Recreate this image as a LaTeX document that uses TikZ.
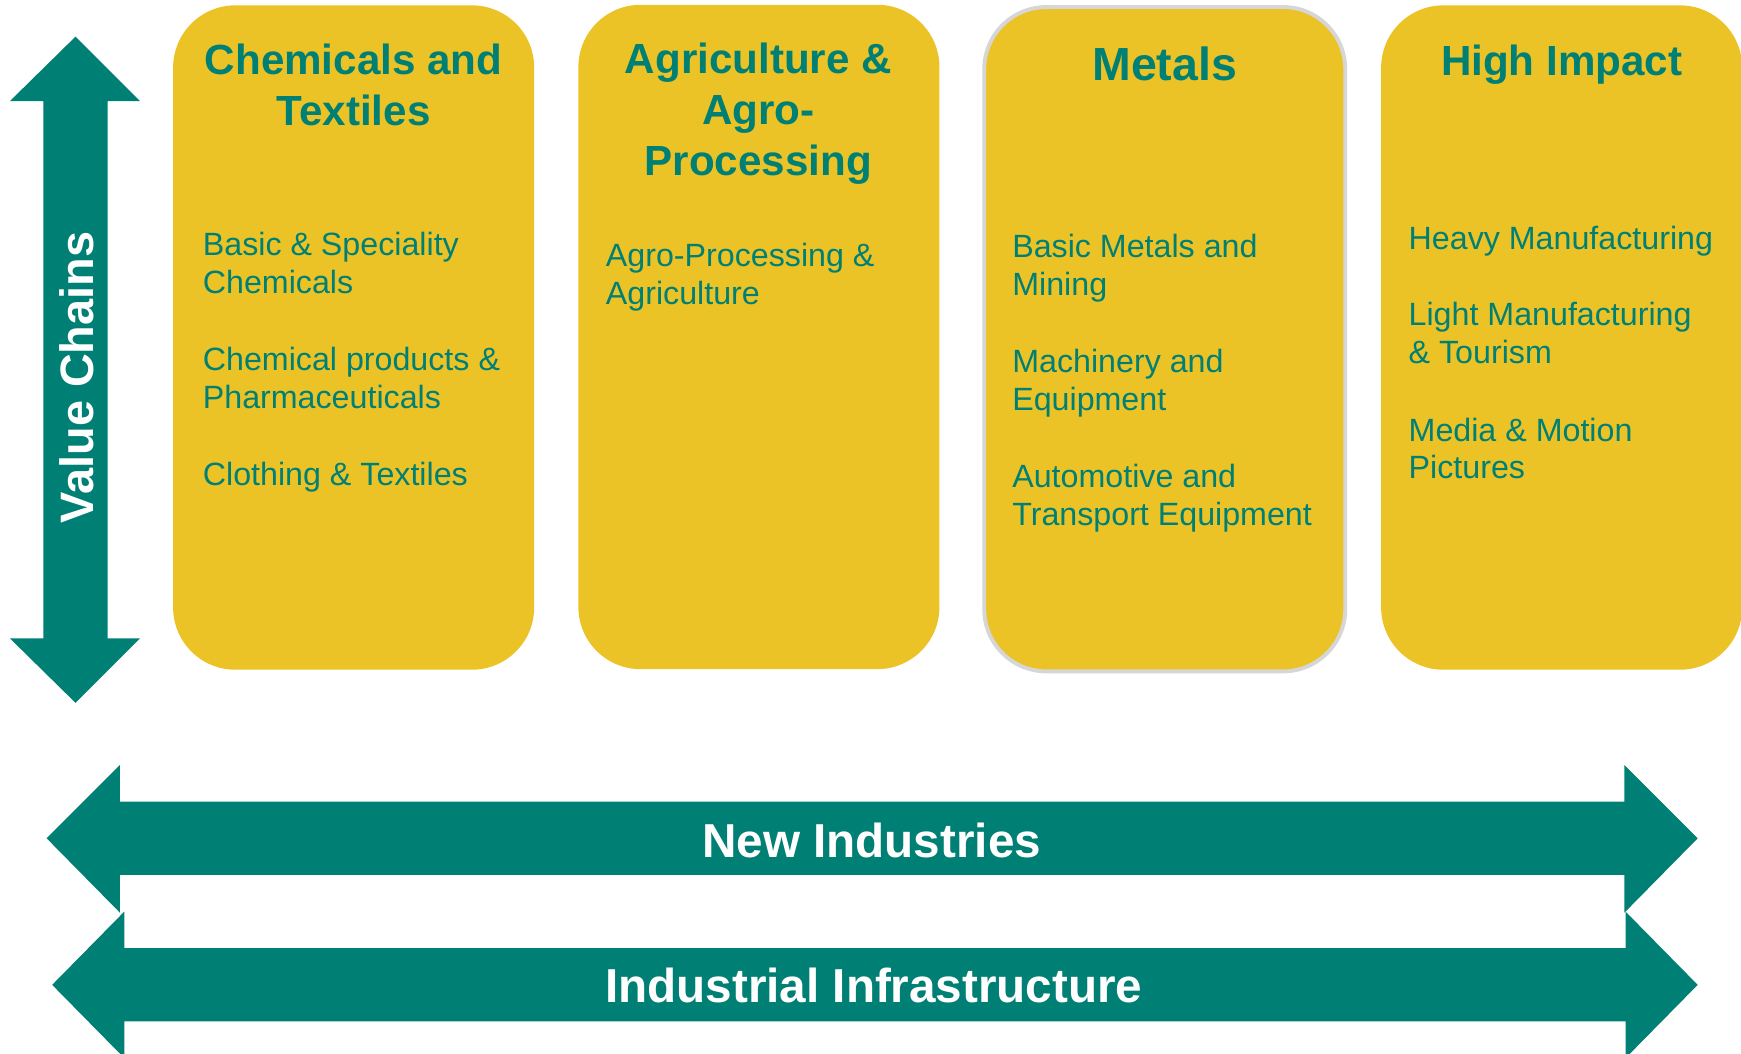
\documentclass[tikz,border=0pt]{standalone}
\usepackage{fontspec}
\setmainfont{Liberation Sans}
\usetikzlibrary{positioning}

\definecolor{chain_teal}{RGB}{0,128,116}
\definecolor{sector_gold}{RGB}{236,195,39}
\definecolor{frame_grey}{RGB}{214,214,214}

\tikzstyle{sector_box} = [
    rounded corners=0.56cm,
    fill=sector_gold,
    minimum width=3.25cm,
    minimum height=5.98cm,
    inner sep=0pt
]
% multi-line nodes sit on the baseline of their last line
\tikzstyle{sector_title} = [
    chain_teal,
    font=\fontsize{10.8}{13.1}\selectfont\bfseries,
    align=center,
    anchor=base,
    inner sep=0pt
]
\tikzstyle{chain_item} = [
    chain_teal,
    font=\fontsize{8.25}{9.7}\selectfont,
    align=left,
    anchor=base west,
    inner sep=0pt
]
\tikzstyle{band_label} = [
    white,
    font=\fontsize{12.2}{14}\selectfont\bfseries,
    inner sep=0pt
]

\begin{document}
\begin{tikzpicture}[x=0.01cm, y=-0.01cm]
\useasboundingbox (0,0) rectangle (1568,949);

% the four sector columns
\node [sector_box] (chem) at (318.5,304) {};
\node [sector_box] (agro) at (683.5,303.5) {};
\node [sector_box, draw=frame_grey, line width=1pt] (metal) at (1049,305.5) {};
\node [sector_box] (impact) at (1406.5,304) {};

\node [sector_title] (chem_title) at (318.5,113) {Chemicals and\\Textiles};
\node [sector_title] (agro_title) at (683,158) {Agriculture \&\\Agro-\\Processing};
\node [sector_title, font=\fontsize{11.9}{14}\selectfont\bfseries] (metal_title) at (1049,72.4) {Metals};
\node [sector_title] (impact_title) at (1406.5,68.4) {High Impact};

% value chains inside each column
\node [chain_item] (chem_a) at (182,264.5) {Basic \& Speciality\\Chemicals};
\node [chain_item] (chem_b) at (182,367.6) {Chemical products \&\\Pharmaceuticals};
\node [chain_item] (chem_c) at (182,437) {Clothing \& Textiles};

\node [chain_item] (agro_a) at (545,274) {Agro-Processing \&\\Agriculture};

\node [chain_item] (metal_a) at (911,266) {Basic Metals and\\Mining};
\node [chain_item] (metal_b) at (911,369.7) {Machinery and\\Equipment};
\node [chain_item] (metal_c) at (911,473.6) {Automotive and\\Transport Equipment};

\node [chain_item] (impact_a) at (1268,225) {Heavy Manufacturing};
\node [chain_item] (impact_b) at (1268,327.7) {Light Manufacturing\\\& Tourism};
\node [chain_item] (impact_c) at (1268,431.4) {Media \& Motion\\Pictures};

% vertical double arrow
\fill [chain_teal] (68,33) -- (126,91) -- (97,91) -- (97,575) -- (126,575)
    -- (68,633) -- (9,575) -- (39,575) -- (39,91) -- (9,91) -- cycle;
\node [band_label, rotate=90, font=\fontsize{12}{14}\selectfont\bfseries] (chain_label) at (69,340) {Value Chains};

% horizontal double arrows
\fill [chain_teal] (42,755) -- (108,689) -- (108,722) -- (1463,722) -- (1463,689)
    -- (1529,755) -- (1463,822) -- (1463,788) -- (108,788) -- (108,822) -- cycle;
\node [band_label] (new_label) at (785,757) {New Industries};

\fill [chain_teal] (47,887) -- (112,821) -- (112,854) -- (1464,854) -- (1464,821)
    -- (1529,887) -- (1464,953) -- (1464,920) -- (112,920) -- (112,953) -- cycle;
\node [band_label] (infra_label) at (787,888) {Industrial Infrastructure};
\end{tikzpicture}
\end{document}
